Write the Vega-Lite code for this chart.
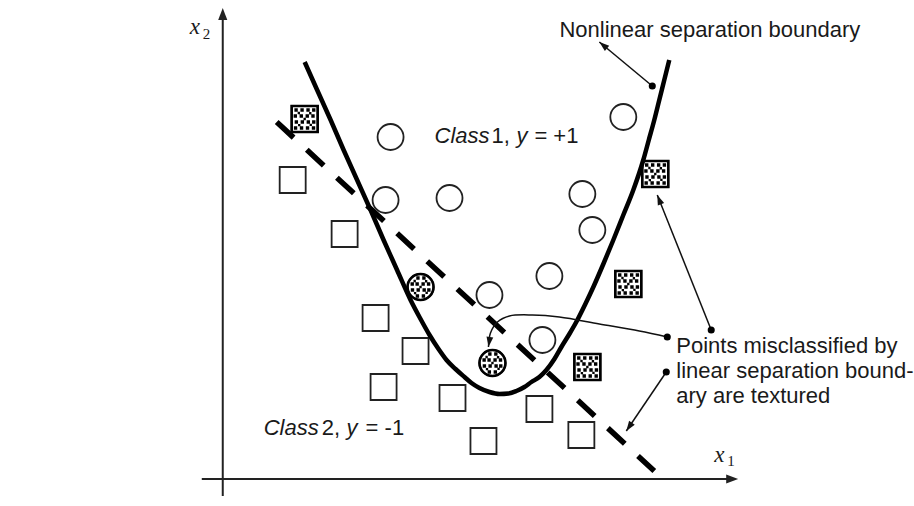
{
  "$schema": "https://vega.github.io/schema/vega-lite/v6.json",
  "width": 914,
  "height": 506,
  "autosize": {"type": "fit", "contains": "padding"},
  "padding": 0,
  "background": "white",
  "config": {"view": {"stroke": null}},
  "datasets": {
    "samples": [
      {"h": 391, "v": 137, "cls": "Class 1", "textured": false},
      {"h": 386, "v": 200, "cls": "Class 1", "textured": false},
      {"h": 450, "v": 198, "cls": "Class 1", "textured": false},
      {"h": 583, "v": 194, "cls": "Class 1", "textured": false},
      {"h": 593, "v": 230, "cls": "Class 1", "textured": false},
      {"h": 624, "v": 117, "cls": "Class 1", "textured": false},
      {"h": 490, "v": 295, "cls": "Class 1", "textured": false},
      {"h": 550, "v": 276, "cls": "Class 1", "textured": false},
      {"h": 543, "v": 340, "cls": "Class 1", "textured": false},
      {"h": 421, "v": 287, "cls": "Class 1", "textured": true},
      {"h": 493, "v": 363, "cls": "Class 1", "textured": true},
      {"h": 293, "v": 180, "cls": "Class 2", "textured": false},
      {"h": 345, "v": 234, "cls": "Class 2", "textured": false},
      {"h": 376, "v": 318, "cls": "Class 2", "textured": false},
      {"h": 416, "v": 351, "cls": "Class 2", "textured": false},
      {"h": 384, "v": 387, "cls": "Class 2", "textured": false},
      {"h": 453, "v": 398, "cls": "Class 2", "textured": false},
      {"h": 540, "v": 409, "cls": "Class 2", "textured": false},
      {"h": 484, "v": 441, "cls": "Class 2", "textured": false},
      {"h": 582, "v": 435, "cls": "Class 2", "textured": false},
      {"h": 305, "v": 119, "cls": "Class 2", "textured": true},
      {"h": 656, "v": 174, "cls": "Class 2", "textured": true},
      {"h": 629, "v": 284, "cls": "Class 2", "textured": true},
      {"h": 588, "v": 367, "cls": "Class 2", "textured": true}
    ],
    "nonlinear": [
      {"h": 305, "v": 62}, {"h": 317.5, "v": 90}, {"h": 331, "v": 120}, {"h": 344, "v": 150},
      {"h": 357.5, "v": 180}, {"h": 371, "v": 210}, {"h": 384, "v": 240}, {"h": 397.5, "v": 270},
      {"h": 411, "v": 300}, {"h": 421, "v": 319}, {"h": 430, "v": 335}, {"h": 439, "v": 349},
      {"h": 447, "v": 360}, {"h": 456, "v": 369}, {"h": 465, "v": 377}, {"h": 472, "v": 383},
      {"h": 480, "v": 388}, {"h": 490, "v": 392}, {"h": 500, "v": 394}, {"h": 509, "v": 393.5},
      {"h": 517, "v": 391}, {"h": 525, "v": 387}, {"h": 532, "v": 382}, {"h": 540, "v": 377},
      {"h": 547, "v": 370}, {"h": 555, "v": 359}, {"h": 562, "v": 347}, {"h": 570, "v": 334},
      {"h": 578, "v": 320}, {"h": 586, "v": 304}, {"h": 594, "v": 287}, {"h": 604, "v": 264},
      {"h": 614, "v": 240}, {"h": 624, "v": 215}, {"h": 634, "v": 190}, {"h": 644, "v": 160},
      {"h": 649.5, "v": 140}, {"h": 655, "v": 120}, {"h": 660, "v": 100}, {"h": 665, "v": 80},
      {"h": 670, "v": 60}
    ],
    "linear": [
      {"h": 277, "v": 122},
      {"h": 655, "v": 471}
    ],
    "axes": [
      {"id": "x1", "k": 0, "h": 202, "v": 479},
      {"id": "x1", "k": 1, "h": 733, "v": 479},
      {"id": "x2", "k": 0, "h": 223, "v": 496},
      {"id": "x2", "k": 1, "h": 223, "v": 14}
    ],
    "leaders": [
      {"id": "a", "k": 0, "h": 653, "v": 86},
      {"id": "a", "k": 1, "h": 600, "v": 42},
      {"id": "b", "k": 0, "h": 712, "v": 330},
      {"id": "b", "k": 1, "h": 658, "v": 195},
      {"id": "c", "k": 0, "h": 668, "v": 337},
      {"id": "c", "k": 1, "h": 640, "v": 331},
      {"id": "c", "k": 2, "h": 600, "v": 324},
      {"id": "c", "k": 3, "h": 560, "v": 317},
      {"id": "c", "k": 4, "h": 533, "v": 315},
      {"id": "c", "k": 5, "h": 510, "v": 316},
      {"id": "c", "k": 6, "h": 498, "v": 322},
      {"id": "c", "k": 7, "h": 491, "v": 333},
      {"id": "c", "k": 8, "h": 489, "v": 347},
      {"id": "d", "k": 0, "h": 667, "v": 372},
      {"id": "d", "k": 1, "h": 627, "v": 431}
    ],
    "heads": [
      {"kind": "axis", "h": 223, "v": 8, "fh": 223, "fv": 100},
      {"kind": "axis", "h": 739, "v": 479, "fh": 600, "fv": 479},
      {"kind": "leader", "h": 600, "v": 42, "fh": 653, "fv": 86},
      {"kind": "leader", "h": 658, "v": 195, "fh": 712, "fv": 330},
      {"kind": "leader", "h": 489, "v": 347, "fh": 491, "fv": 333},
      {"kind": "leader", "h": 627, "v": 431, "fh": 667, "fv": 372}
    ],
    "dots": [
      {"h": 653, "v": 86},
      {"h": 712, "v": 330},
      {"h": 668, "v": 337},
      {"h": 667, "v": 372}
    ],
    "plainText": [
      {"h": 560, "v": 37, "t": "Nonlinear separation boundary"},
      {"h": 677, "v": 353, "t": "Points misclassified by"},
      {"h": 677, "v": 378, "t": "linear separation bound-"},
      {"h": 677, "v": 403, "t": "ary are textured"},
      {"h": 492, "v": 143, "t": "1,"},
      {"h": 535, "v": 143, "t": "= +1"},
      {"h": 322, "v": 435, "t": "2,"},
      {"h": 366, "v": 435, "t": "= -1"}
    ],
    "italicText": [
      {"h": 435, "v": 143, "t": "Class"},
      {"h": 517, "v": 143, "t": "y"},
      {"h": 264, "v": 435, "t": "Class"},
      {"h": 347, "v": 435, "t": "y"}
    ],
    "axisSymbol": [
      {"h": 190, "v": 34, "t": "x"},
      {"h": 715, "v": 462, "t": "x"}
    ],
    "axisIndex": [
      {"h": 203, "v": 39, "t": "2"},
      {"h": 728, "v": 466, "t": "1"}
    ]
  },
  "encoding": {
    "x": {"field": "h", "type": "quantitative", "axis": null,
          "scale": {"domain": [0, 914], "nice": false, "zero": false}},
    "y": {"field": "v", "type": "quantitative", "axis": null,
          "scale": {"domain": [0, 506], "nice": false, "zero": false, "reverse": true}}
  },
  "layer": [
    {
      "data": {"name": "samples"},
      "mark": {"type": "point", "size": 676, "filled": false, "fill": "white", "fillOpacity": 1, "stroke": "#222222", "strokeWidth": 1.8, "opacity": 1},
      "encoding": {
        "shape": {"field": "cls", "type": "nominal", "legend": null,
                  "scale": {"domain": ["Class 1", "Class 2"], "range": ["circle", "square"]}}
      }
    },
    {
      "data": {"name": "samples"},
      "transform": [{"filter": "datum.textured && datum.cls == 'Class 2'"}],
      "mark": {"type": "point", "size": 676, "filled": true, "fill": "#000000", "strokeWidth": 0, "opacity": 1,
               "shape": "M-0.79,-0.82h0.26v0.26h-0.26zM-0.33,-0.82h0.26v0.26h-0.26zM0.13,-0.82h0.26v0.26h-0.26zM0.57,-0.82h0.26v0.26h-0.26zM-0.85,-0.36h0.26v0.26h-0.26zM-0.39,-0.36h0.26v0.26h-0.26zM0.07,-0.36h0.26v0.26h-0.26zM0.51,-0.36h0.26v0.26h-0.26zM-0.77,0.1h0.26v0.26h-0.26zM-0.31,0.1h0.26v0.26h-0.26zM0.15,0.1h0.26v0.26h-0.26zM0.57,0.1h0.26v0.26h-0.26zM-0.83,0.56h0.26v0.26h-0.26zM-0.37,0.56h0.26v0.26h-0.26zM0.09,0.56h0.26v0.26h-0.26zM0.55,0.56h0.26v0.26h-0.26zM-0.54,-0.55h0.18v0.18h-0.18zM0.34,-0.53h0.18v0.18h-0.18zM-0.09,-0.09h0.18v0.18h-0.18zM-0.51,0.38h0.18v0.18h-0.18zM0.38,0.36h0.18v0.18h-0.18z"},
      "encoding": {}
    },
    {
      "data": {"name": "samples"},
      "transform": [{"filter": "datum.textured && datum.cls == 'Class 1'"}],
      "mark": {"type": "point", "size": 676, "filled": true, "fill": "#000000", "strokeWidth": 0, "opacity": 1,
               "shape": "M-0.33,-0.82h0.26v0.26h-0.26zM0.13,-0.82h0.26v0.26h-0.26zM-0.77,-0.36h0.26v0.26h-0.26zM-0.39,-0.36h0.26v0.26h-0.26zM0.07,-0.36h0.26v0.26h-0.26zM0.49,-0.36h0.26v0.26h-0.26zM-0.75,0.1h0.26v0.26h-0.26zM-0.31,0.1h0.26v0.26h-0.26zM0.15,0.1h0.26v0.26h-0.26zM0.51,0.1h0.26v0.26h-0.26zM-0.37,0.56h0.26v0.26h-0.26zM0.09,0.56h0.26v0.26h-0.26zM-0.54,-0.55h0.18v0.18h-0.18zM0.34,-0.53h0.18v0.18h-0.18zM-0.09,-0.09h0.18v0.18h-0.18zM-0.51,0.38h0.18v0.18h-0.18zM0.38,0.36h0.18v0.18h-0.18z"},
      "encoding": {}
    },
    {
      "data": {"name": "samples"},
      "transform": [{"filter": "datum.textured"}],
      "mark": {"type": "point", "size": 676, "filled": false, "stroke": "#000000", "strokeWidth": 2.6, "opacity": 1},
      "encoding": {
        "shape": {"field": "cls", "type": "nominal", "legend": null,
                  "scale": {"domain": ["Class 1", "Class 2"], "range": ["circle", "square"]}}
      }
    },
    {
      "data": {"name": "nonlinear"},
      "mark": {"type": "line", "interpolate": "monotone", "color": "#000000", "strokeWidth": 4.5, "strokeCap": "butt"},
      "encoding": {}
    },
    {
      "data": {"name": "linear"},
      "mark": {"type": "line", "color": "#000000", "strokeWidth": 5.5, "strokeDash": [23, 18], "strokeCap": "butt"},
      "encoding": {}
    },
    {
      "data": {"name": "axes"},
      "mark": {"type": "line", "color": "#222222", "strokeWidth": 2},
      "encoding": {
        "detail": {"field": "id", "type": "nominal"},
        "order": {"field": "k", "type": "quantitative"}
      }
    },
    {
      "data": {"name": "leaders"},
      "mark": {"type": "line", "interpolate": "catmull-rom", "color": "#111111", "strokeWidth": 1.5},
      "encoding": {
        "detail": {"field": "id", "type": "nominal"},
        "order": {"field": "k", "type": "quantitative"}
      }
    },
    {
      "data": {"name": "heads"},
      "transform": [
        {"filter": "datum.kind == 'axis'"},
        {"calculate": "atan2(datum.h - datum.fh, datum.fv - datum.v) * 180 / PI", "as": "heading"}
      ],
      "mark": {"type": "point", "size": 576, "filled": true, "fill": "#222222", "strokeWidth": 0, "opacity": 1,
               "shape": "M0,0L-0.38,1L0.38,1Z"},
      "encoding": {"angle": {"field": "heading", "type": "quantitative", "scale": null}}
    },
    {
      "data": {"name": "heads"},
      "transform": [
        {"filter": "datum.kind == 'leader'"},
        {"calculate": "atan2(datum.h - datum.fh, datum.fv - datum.v) * 180 / PI", "as": "heading"}
      ],
      "mark": {"type": "point", "size": 400, "filled": true, "fill": "#111111", "strokeWidth": 0, "opacity": 1,
               "shape": "M0,0L-0.34,1L0.34,1Z"},
      "encoding": {"angle": {"field": "heading", "type": "quantitative", "scale": null}}
    },
    {
      "data": {"name": "dots"},
      "mark": {"type": "point", "shape": "circle", "size": 50, "filled": true, "fill": "#000000", "strokeWidth": 0, "opacity": 1},
      "encoding": {}
    },
    {
      "data": {"name": "plainText"},
      "mark": {"type": "text", "font": "Liberation Sans", "fontSize": 22, "align": "left", "baseline": "alphabetic", "color": "#1a1a1a"},
      "encoding": {"text": {"field": "t", "type": "nominal"}}
    },
    {
      "data": {"name": "italicText"},
      "mark": {"type": "text", "font": "Liberation Sans", "fontSize": 22, "fontStyle": "italic", "align": "left", "baseline": "alphabetic", "color": "#1a1a1a"},
      "encoding": {"text": {"field": "t", "type": "nominal"}}
    },
    {
      "data": {"name": "axisSymbol"},
      "mark": {"type": "text", "font": "Liberation Serif", "fontSize": 23, "fontStyle": "italic", "align": "left", "baseline": "alphabetic", "color": "#1a1a1a"},
      "encoding": {"text": {"field": "t", "type": "nominal"}}
    },
    {
      "data": {"name": "axisIndex"},
      "mark": {"type": "text", "font": "Liberation Serif", "fontSize": 15, "align": "left", "baseline": "alphabetic", "color": "#1a1a1a"},
      "encoding": {"text": {"field": "t", "type": "nominal"}}
    }
  ]
}
